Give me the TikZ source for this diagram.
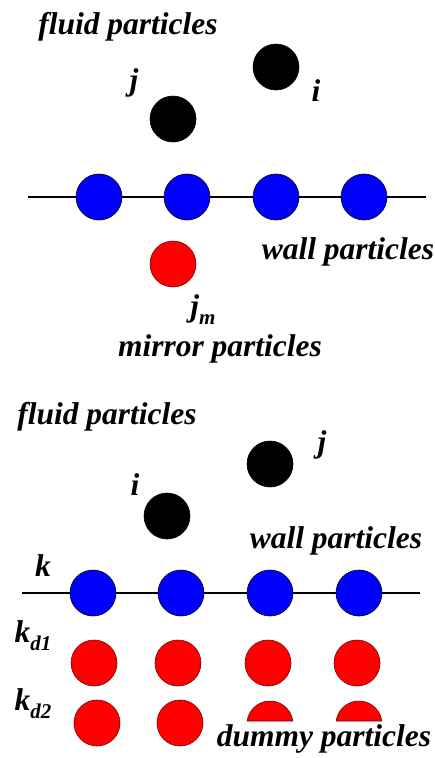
\documentclass[tikz,border=0pt]{standalone}
\usepackage{fontspec}
\setmainfont{Liberation Serif}
\begin{document}
\begin{tikzpicture}[x=1pt,y=-1pt,
  lbl/.style={font=\fontsize{31.5}{33}\selectfont\bfseries\itshape, inner sep=0pt},
  part/.style={circle, minimum size=46pt, inner sep=0pt, draw=black, line width=0.6pt},
  fluidp/.style={part, fill=black},
  wallp/.style={part, fill=blue},
  redp/.style={part, fill=red, draw=red!45!black},
  halfp/.style={fill=red, draw=red!45!black, line width=0.6pt},
  wline/.style={line width=1.2pt}]
\useasboundingbox (0,0) rectangle (434,758);
% ---------- top panel ----------
\node[lbl] (tfluid) at (128,27) {fluid particles};
\node[fluidp] (ti) at (276,67) {};
\node[lbl] (til) at (316,91) {i};
\node[fluidp] (tj) at (173,119) {};
\node[lbl] (tjl) at (134,83) {j};
\coordinate (twl) at (28,197);
\coordinate (twr) at (426,197);
\node[wallp] (tw1) at (99,197) {};
\node[wallp] (tw2) at (187,197) {};
\node[wallp] (tw3) at (276,197) {};
\node[wallp] (tw4) at (364,197) {};
\draw[wline] (twl) -- (tw1) -- (tw2) -- (tw3) -- (tw4) -- (twr);
\node[lbl] (twall) at (348,252) {wall particles};
\node[redp] (tjm) at (173,264) {};
\node[lbl] (tjml) at (203,310) {j\raisebox{-0.25em}{\fontsize{21}{21}\selectfont m}};
\node[lbl] (tmirror) at (220,349) {mirror particles};
% ---------- bottom panel ----------
\node[lbl] (bfluid) at (107,417) {fluid particles};
\node[fluidp] (bj) at (270,464) {};
\node[lbl] (bjl) at (322,445) {j};
\node[fluidp] (bi) at (167,516) {};
\node[lbl] (bil) at (135,485) {i};
\node[lbl] (bwall) at (336,541) {wall particles};
\node[lbl] (bkl) at (43,566) {k};
\coordinate (bwl) at (22,593);
\coordinate (bwr) at (420,593);
\node[wallp] (bw1) at (93,593) {};
\node[wallp] (bw2) at (181,593) {};
\node[wallp] (bw3) at (270,593) {};
\node[wallp] (bw4) at (359,593) {};
\draw[wline] (bwl) -- (bw1) -- (bw2) -- (bw3) -- (bw4) -- (bwr);
\node[lbl] (bkd1) at (33,636) {k\raisebox{-0.25em}{\fontsize{21}{21}\selectfont d1}};
\node[redp] (d11) at (94,663) {};
\node[redp] (d12) at (178,663) {};
\node[redp] (d13) at (268,663) {};
\node[redp] (d14) at (357,663) {};
\node[lbl] (bkd2) at (33,704) {k\raisebox{-0.25em}{\fontsize{21}{21}\selectfont d2}};
\node[redp] (d21) at (97,723) {};
\node[redp] (d22) at (180,723) {};
\draw[halfp] (270,724) ++(-7.5:23) arc[start angle=-7.5, end angle=-172.5, radius=23] -- cycle;
\draw[halfp] (359,724) ++(-7.5:23) arc[start angle=-7.5, end angle=-172.5, radius=23] -- cycle;
\node[lbl] (bdummy) at (324,739) {dummy particles};
\end{tikzpicture}
\end{document}
